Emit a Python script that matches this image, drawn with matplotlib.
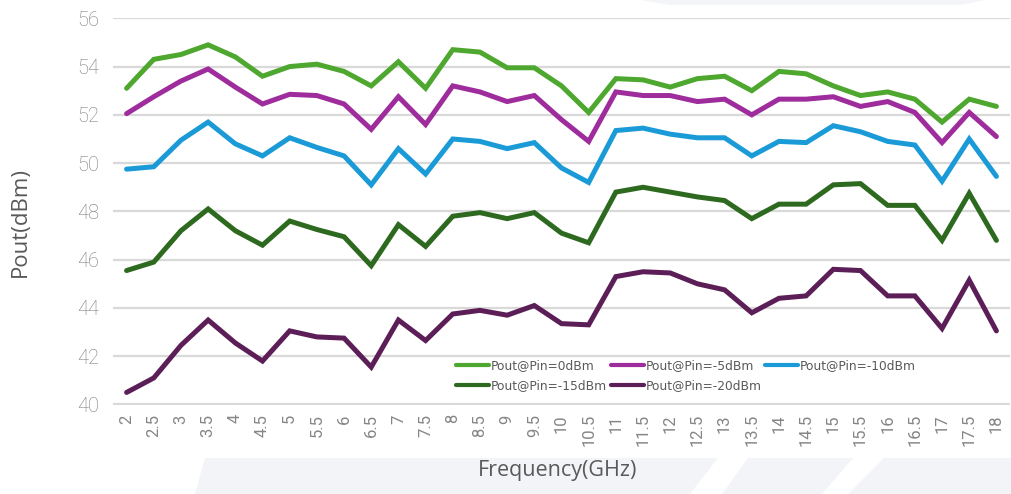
import matplotlib
matplotlib.use("Agg")
import matplotlib.pyplot as plt
from matplotlib.patches import Polygon

freqs = ["2", "2.5", "3", "3.5", "4", "4.5", "5", "5.5", "6", "6.5", "7", "7.5",
         "8", "8.5", "9", "9.5", "10", "10.5", "11", "11.5", "12", "12.5", "13",
         "13.5", "14", "14.5", "15", "15.5", "16", "16.5", "17", "17.5", "18"]

pin_0 = [53.1, 54.3, 54.5, 54.9, 54.4, 53.6, 54.0, 54.1, 53.8, 53.2, 54.2, 53.1,
         54.7, 54.6, 53.95, 53.95, 53.2, 52.1, 53.5, 53.45, 53.15, 53.5, 53.6,
         53.0, 53.8, 53.7, 53.2, 52.8, 52.95, 52.65, 51.7, 52.65, 52.35]
pin_m5 = [52.05, 52.75, 53.4, 53.9, 53.15, 52.45, 52.85, 52.8, 52.45, 51.4, 52.75, 51.6,
          53.2, 52.95, 52.55, 52.8, 51.8, 50.9, 52.95, 52.8, 52.8, 52.55, 52.65,
          52.0, 52.65, 52.65, 52.75, 52.35, 52.55, 52.1, 50.85, 52.1, 51.1]
pin_m10 = [49.75, 49.85, 50.95, 51.7, 50.8, 50.3, 51.05, 50.65, 50.3, 49.1, 50.6, 49.55,
           51.0, 50.9, 50.6, 50.85, 49.8, 49.2, 51.35, 51.45, 51.2, 51.05, 51.05,
           50.3, 50.9, 50.85, 51.55, 51.3, 50.9, 50.75, 49.25, 51.0, 49.45]
pin_m15 = [45.55, 45.9, 47.2, 48.1, 47.2, 46.6, 47.6, 47.25, 46.95, 45.75, 47.45, 46.55,
           47.8, 47.95, 47.7, 47.95, 47.1, 46.7, 48.8, 49.0, 48.8, 48.6, 48.45,
           47.7, 48.3, 48.3, 49.1, 49.15, 48.25, 48.25, 46.8, 48.75, 46.8]
pin_m20 = [40.5, 41.1, 42.45, 43.5, 42.55, 41.8, 43.05, 42.8, 42.75, 41.55, 43.5, 42.65,
           43.75, 43.9, 43.7, 44.1, 43.35, 43.3, 45.3, 45.5, 45.45, 45.0, 44.75,
           43.8, 44.4, 44.5, 45.6, 45.55, 44.5, 44.5, 43.15, 45.15, 43.05]

series = [
    ("Pout@Pin=0dBm", pin_0, "#4EA72E"),
    ("Pout@Pin=-5dBm", pin_m5, "#9E2C9C"),
    ("Pout@Pin=-10dBm", pin_m10, "#1A9BD7"),
    ("Pout@Pin=-15dBm", pin_m15, "#2D6A1F"),
    ("Pout@Pin=-20dBm", pin_m20, "#5C1E57"),
]
yticks = [40, 42, 44, 46, 48, 50, 52, 54, 56]

W, H = 1011, 494
fig = plt.figure(figsize=(W / 100, H / 100), dpi=100)
fig.patch.set_facecolor("white")

# faint background watermark bands
wm = "#F3F4F7"
def fx(px):
    return px / W
def fy(py):
    return 1 - py / H
bands = [
    [(205, 458), (718, 458), (690, 494), (195, 494)],
    [(748, 458), (853, 458), (822, 494), (722, 494)],
    [(884, 458), (1011, 458), (1011, 494), (848, 494)],
]
for b in bands:
    fig.patches.append(Polygon([(fx(x), fy(y)) for x, y in b], closed=True,
                               transform=fig.transFigure, facecolor=wm,
                               edgecolor="none", zorder=0))
fig.patches.append(Polygon([(fx(x), fy(y)) for x, y in
                            [(640, 0), (985, 0), (960, 5), (670, 5)]],
                           closed=True, transform=fig.transFigure,
                           facecolor="#F4F5F8", edgecolor="none", zorder=0))

left, right = 113 / W, 1010 / W
bottom, top = 1 - 404.5 / H, 1 - 18.3 / H
ax = fig.add_axes([left, bottom, right - left, top - bottom])
ax.set_facecolor("none")

x = list(range(len(freqs)))
lines = []
for name, vals, col in series:
    ln, = ax.plot(x, vals, color=col, lw=3.6, label=name, solid_joinstyle="miter",
                  solid_capstyle="round", zorder=3)
    lines.append(ln)

ax.set_xlim(-0.5, len(freqs) - 0.5)
ax.set_ylim(40, 56)
ax.set_yticks(yticks)
ax.set_yticklabels([str(v) for v in yticks])
ax.set_xticks(x)
ax.set_xticklabels(freqs, rotation=90, va="top", ha="center")
ax.grid(axis="y", color="#D9D9D9", lw=1.6, zorder=0)
ax.set_axisbelow(True)
for s in ax.spines.values():
    s.set_visible(False)
ax.tick_params(axis="both", length=0)
ax.tick_params(axis="y", labelsize=14.5, labelcolor="#7A7A7A", pad=10)
ax.tick_params(axis="x", labelsize=12, labelcolor="#858585", pad=7)
for lab in ax.get_yticklabels():
    lab.set_fontfamily("Roboto")
    lab.set_fontweight("light")
for lab in ax.get_xticklabels():
    lab.set_fontfamily("Roboto")

fig.text(20 / W, 1 - 222 / H, "Pout(dBm)", rotation=90, ha="center", va="center",
         fontsize=16, color="#595959", family="Open Sans")
fig.text(558 / W, 1 - 470 / H, "Frequency(GHz)", ha="center", va="center",
         fontsize=15.5, color="#595959", family="Open Sans")

order = [0, 3, 1, 4, 2]
leg = fig.legend([lines[i] for i in order], [series[i][0] for i in order],
                 loc="upper left", bbox_to_anchor=(456 / W, 1 - 359 / H),
                 ncol=3, frameon=False, fontsize=8.8, handlelength=2.7,
                 handletextpad=0.15, columnspacing=0.3, labelspacing=0.6,
                 borderaxespad=0, borderpad=0)
for t in leg.get_texts():
    t.set_color("#595959")
for h in leg.get_lines():
    h.set_linewidth(3)

fig.savefig("out.png", dpi=100, facecolor="white")
